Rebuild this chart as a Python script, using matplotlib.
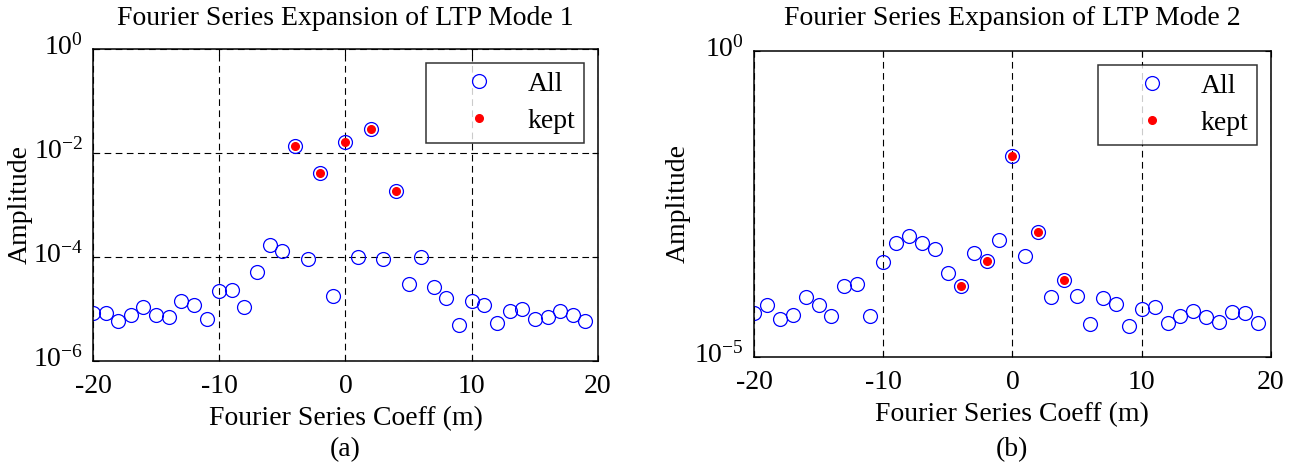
import matplotlib
matplotlib.use("Agg")
import matplotlib.pyplot as plt
from matplotlib.transforms import ScaledTranslation
import numpy as np

plt.rcParams["font.family"] = ["Liberation Serif", "DejaVu Serif"]
plt.rcParams["mathtext.fontset"] = "custom"
plt.rcParams["mathtext.rm"] = "Liberation Serif"
plt.rcParams["mathtext.it"] = "Liberation Serif:italic"
plt.rcParams["axes.unicode_minus"] = False

# Fourier coefficient index m = -20 .. 19
m = np.arange(-20, 20)

amp_mode1 = [8.3e-6, 8.3e-6, 5.9e-6, 7.8e-6, 1.1e-5, 7.6e-6, 7.1e-6, 1.45e-5,
             1.17e-5, 6.5e-6, 2.2e-5, 2.3e-5, 1.1e-5, 5.1e-5, 1.7e-4, 1.32e-4,
             1.35e-2, 9.3e-5, 4.1e-3, 1.8e-5, 1.62e-2, 1.02e-4, 2.95e-2, 9.3e-5,
             1.86e-3, 3.0e-5, 1.02e-4, 2.6e-5, 1.66e-5, 5.0e-6, 1.41e-5, 1.17e-5,
             5.4e-6, 9.3e-6, 1.0e-5, 6.5e-6, 7.1e-6, 9.3e-6, 7.6e-6, 6.0e-6]

amp_mode2 = [5.2e-5, 7.1e-5, 4.2e-5, 4.9e-5, 9.5e-5, 7.1e-5, 4.6e-5, 1.45e-4,
             1.55e-4, 4.6e-5, 3.55e-4, 7.2e-4, 9.5e-4, 7.2e-4, 5.75e-4, 2.4e-4,
             1.45e-4, 5.1e-4, 3.7e-4, 8.3e-4, 1.95e-2, 4.4e-4, 1.12e-3, 9.5e-5,
             1.78e-4, 1.0e-4, 3.4e-5, 9.3e-5, 7.4e-5, 3.2e-5, 6.2e-5, 6.6e-5,
             3.6e-5, 4.6e-5, 5.75e-5, 4.5e-5, 3.8e-5, 5.4e-5, 5.2e-5, 3.6e-5]

# coefficients retained in the truncated expansion
kept_m = [-4, -2, 0, 2, 4]

titles = ["Fourier Series Expansion of LTP Mode 1",
          "Fourier Series Expansion of LTP Mode 2"]
panel_tags = ["(a)", "(b)"]
ylims = [(1e-6, 1e0), (1e-5, 1e0)]
yticks = [[1e-6, 1e-4, 1e-2, 1e0], [1e-5, 1e0]]
ytick_labels = [[r"$10^{-6}$", r"$10^{-4}$", r"$10^{-2}$", r"$10^{0}$"],
                [r"$10^{-5}$", r"$10^{0}$"]]

FS = 20

fig = plt.figure(figsize=(12.93, 4.63), dpi=100)
axes = [fig.add_axes([0.0719, 0.2203, 0.3906, 0.6739]),
        fig.add_axes([0.5831, 0.2289, 0.3998, 0.6610])]
ylabel_x = [-0.119, -0.122]

# lift the exponent labels so the "10" sits on the tick
lift = ScaledTranslation(0, 0.045, fig.dpi_scale_trans)

for ax, amp, title, tag, ylim, yt, ytl, lx in zip(axes, [amp_mode1, amp_mode2], titles,
                                                  panel_tags, ylims, yticks, ytick_labels,
                                                  ylabel_x):
    amp = np.asarray(amp)
    idx = [list(m).index(k) for k in kept_m]
    ax.semilogy(m, amp, "o", mfc="none", mec="#0000ff", ms=10, mew=0.9, label="All")
    ax.semilogy(m[idx], amp[idx], "o", color="red", mec="red", ms=5.5, label="kept")

    ax.set_xlim(-20, 20)
    ax.set_ylim(*ylim)
    ax.set_xticks([-20, -10, 0, 10, 20])
    ax.set_yticks(yt)
    ax.set_yticklabels(ytl)
    ax.yaxis.set_minor_locator(matplotlib.ticker.NullLocator())
    ax.tick_params(direction="in", top=True, right=True, length=4, width=0.8,
                   labelsize=FS)
    ax.tick_params(axis="x", pad=9.5)
    ax.tick_params(axis="y", pad=7)
    for lab in ax.get_yticklabels():
        lab.set_transform(lab.get_transform() + lift)
    ax.grid(True, which="major", color="black", linestyle=(0, (6, 4)), linewidth=0.8)
    for sp in ax.spines.values():
        sp.set_linewidth(1.1)

    bb = ax.get_position()
    cx = (bb.x0 + bb.x1) / 2
    fig.text(cx, 0.961, title, ha="center", va="center", fontsize=FS)
    fig.text(cx, 1 - 450 / 463, tag, ha="center", va="center", fontsize=FS)
    ax.set_xlabel("Fourier Series Coeff (m)", fontsize=FS, labelpad=5)
    ax.set_ylabel("Amplitude", fontsize=FS)
    ax.yaxis.set_label_coords(lx, 0.5)

    leg = ax.legend(loc="upper right", fontsize=FS, frameon=True, fancybox=False,
                    handlelength=3.2, handletextpad=0.15, labelspacing=0.4,
                    borderpad=0.32)
    leg.get_frame().set_edgecolor("black")
    leg.get_frame().set_linewidth(1.1)

# only vertical grid lines on the second panel
axes[1].yaxis.grid(False)

fig.savefig("out.png", dpi=100)
